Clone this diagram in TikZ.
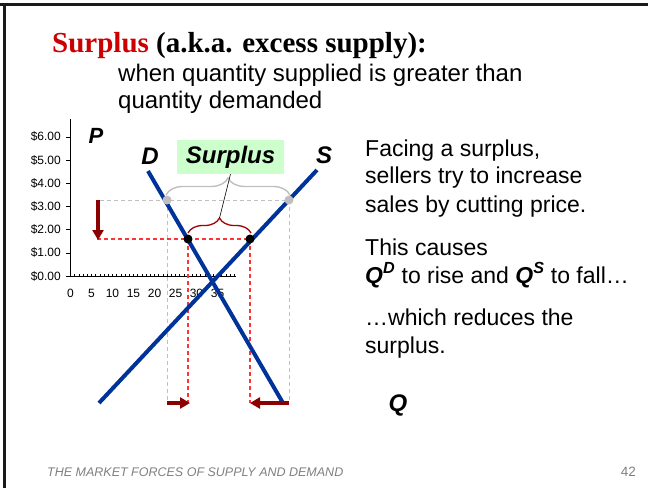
\documentclass[tikz,border=0pt]{standalone}
\usepackage{fontspec}
\setmainfont{Liberation Sans}
\newfontfamily\titleserif{Liberation Serif}
\usetikzlibrary{arrows.meta,decorations.pathreplacing}
\definecolor{sblue}{HTML}{003399}
\definecolor{dred}{HTML}{8B0000}
\definecolor{lgreen}{HTML}{CCFFCC}
\definecolor{tred}{HTML}{CC0000}
\definecolor{bred}{HTML}{A00000}
\definecolor{lgray}{HTML}{BFBFBF}
\definecolor{rdash}{HTML}{FF3333}
\definecolor{fgray}{HTML}{7F7F7F}
\definecolor{frame}{HTML}{1A1A1A}
\begin{document}
\begin{tikzpicture}[x=1pt,y=-1pt,
  curve/.style={line width=4pt, color=sblue},
  gdash/.style={dash pattern=on 4pt off 3pt, color=lgray, line width=1pt},
  rdashed/.style={dash pattern=on 4pt off 3pt, color=rdash, line width=1.2pt},
  arr/.style={line width=4pt, color=dred, -{Triangle[length=10pt,width=11pt]}},
  lab/.style={font=\fontsize{24}{28}\selectfont\bfseries\itshape, inner sep=0},
  body/.style={font=\fontsize{24}{28}\selectfont, anchor=base west, inner sep=0},
  rbody/.style={font=\fontsize{23}{27}\selectfont, anchor=base west, inner sep=0},
  ticklab/.style={font=\fontsize{12}{14}\selectfont, inner sep=0},
  dot/.style={circle, inner sep=0, minimum size=9pt}]
\useasboundingbox (0,0) rectangle (648,488);
% frame
\draw[frame, line width=2.7pt] (0,4.7) -- (648,4.7);
\draw[frame, line width=2.7pt] (4.7,4.7) -- (4.7,488);
% title
\node[anchor=base west, inner sep=0, font=\titleserif\bfseries\fontsize{29}{34}\selectfont] (title) at (52,52) {\textcolor{tred}{Surplus} (a.k.a. excess supply):};
\node[body] (sub1) at (118,81) {when quantity supplied is greater than};
\node[body] (sub2) at (118,108.5) {quantity demanded};
% axes
\draw[line width=1pt] (70.5,119) -- (70.5,276) -- (236,276);
\foreach \k/\v in {0/\$0.00,1/\$1.00,2/\$2.00,3/\$3.00,4/\$4.00,5/\$5.00,6/\$6.00}{
  \draw[line width=0.6pt] (66,276-23.2*\k) -- (70.5,276-23.2*\k);
  \node[ticklab, anchor=east] (yl\k) at (61,276-23.2*\k) {\v};
}
\foreach \i in {1,...,39}{
  \draw[line width=0.5pt] (70.5+4.2*\i,276) -- (70.5+4.2*\i,273.5);
}
\foreach \v in {0,5,...,35}{
  \node[ticklab] (xl\v) at (70.5+4.2*\v,293) {\v};
}
\node[lab, font=\fontsize{22}{26}\selectfont\bfseries\itshape] (P) at (96,135.5) {P};
% dashed guides
\draw[gdash] (100,200) -- (289,200);
\draw[gdash] (167,200) -- (167,403);
\draw[gdash] (289,200) -- (289,403);
\draw[rdashed] (97,239) -- (250,239);
\draw[rdashed] (188,239) -- (188,403);
\draw[rdashed] (250,239) -- (250,403);
% curves
\coordinate (d1) at (148,171);
\coordinate (d2) at (283,403);
\coordinate (s1) at (99,403);
\coordinate (s2) at (317,170);
\draw[curve] (d1) -- (d2);
\draw[curve] (s1) -- (s2);
\node[lab] (D) at (150,156.5) {D};
\node[lab] (S) at (324,155) {S};
% dots
\node[dot, fill=lgray] (g1) at (167,200) {};
\node[dot, fill=lgray] (g2) at (289,200) {};
\node[dot, fill=black] (b1) at (188,239) {};
\node[dot, fill=black] (b2) at (250,239) {};
% braces
\draw[lgray, line width=1.4pt, decorate, decoration={brace, amplitude=17pt}] (166,195) -- (290,195);
\draw[bred, line width=1.3pt, decorate, decoration={brace, amplitude=15pt}] (188,233) -- (251,233);
\coordinate (rtip) at (219.5,218);
% surplus box
\node[lab, fill=lgreen, minimum width=107pt, minimum height=34pt] (sbox) at (230.5,157) {Surplus};
\draw[line width=0.6pt] (sbox.south) -- (rtip);
% arrows
\coordinate (pa1) at (98,200);
\coordinate (pa2) at (98,240);
\draw[arr] (pa1) -- (pa2);
\coordinate (qa1) at (167,403);
\coordinate (qa2) at (190,403);
\draw[arr] (qa1) -- (qa2);
\coordinate (qb1) at (289,403);
\coordinate (qb2) at (250,403);
\draw[arr] (qb1) -- (qb2);
% right text
\node[rbody] (t1) at (365,156) {Facing a surplus,};
\node[rbody] (t2) at (365,183.5) {sellers try to increase};
\node[rbody] (t3) at (365,212) {sales by cutting price.};
\node[rbody] (t4) at (365,255) {This causes};
\node[rbody] (t5) at (365,283) {\textbf{\textit{Q}}\textsuperscript{\textbf{\textit{D}}} to rise and \textbf{\textit{Q}}\textsuperscript{\textbf{\textit{S}}} to fall…};
\node[rbody] (t6) at (365,325) {…which reduces the};
\node[rbody] (t7) at (365,353) {surplus.};
\node[lab] (Q) at (398,405) {Q};
% footer
\node[anchor=base west, inner sep=0, font=\fontsize{12.5}{15}\selectfont\itshape, text=fgray] (foot) at (47,476) {THE MARKET FORCES OF SUPPLY AND DEMAND};
\node[anchor=base east, inner sep=0, font=\fontsize{13.5}{16}\selectfont, text=fgray] (page) at (636,476) {42};
\end{tikzpicture}
\end{document}
